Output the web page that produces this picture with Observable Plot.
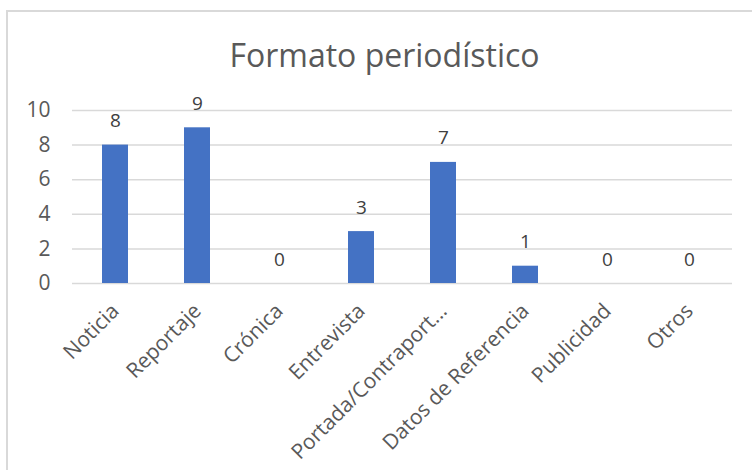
<!DOCTYPE html>
<html>
<head>
<meta charset="utf-8">
<script src="https://cdn.jsdelivr.net/npm/d3@7"></script>
<script src="https://cdn.jsdelivr.net/npm/@observablehq/plot@0.6"></script>
<style>
  html, body { margin: 0; padding: 0; background: #fff; width: 752px; height: 470px; overflow: hidden; }
  #frame { position: absolute; left: 6px; top: 10px; width: 800px; height: 520px; border: 2px solid #d9d9d9; box-sizing: border-box; }
  #title { position: absolute; left: 0; width: 769px; top: 35px; text-align: center; font-family: "Open Sans", sans-serif; font-size: 32px; line-height: 40px; color: #595959; }
  #chart { position: absolute; left: 0; top: 85px; }
  #chart g[aria-label="y-axis tick label"] { font-size: 21px; }
</style>
</head>
<body>
<div id="frame"></div>
<div id="title">Formato periodístico</div>
<div id="chart"></div>
<script>
const categories = ["Noticia", "Reportaje", "Crónica", "Entrevista", "Portada/Contraport...", "Datos de Referencia", "Publicidad", "Otros"];
const values = [8, 9, 0, 3, 7, 1, 0, 0];
const yTicks = [0, 2, 4, 6, 8, 10];

const data = categories.map((c, i) => ({category: c, value: values[i]}));

const chart = Plot.plot({
  width: 752,
  height: 385,
  marginTop: 25,
  marginBottom: 187,
  marginLeft: 72,
  marginRight: 20,
  style: {fontFamily: "Open Sans, sans-serif", color: "#595959", background: "transparent", overflow: "visible"},
  x: {domain: categories, paddingInner: 0.685, paddingOuter: 0.3425, label: null},
  y: {domain: [0, 10], label: null},
  marks: [
    Plot.gridY(yTicks, {stroke: "#d9d9d9", strokeOpacity: 1, strokeWidth: 1.5}),
    Plot.axisY(yTicks, {tickSize: 0, tickPadding: 22, fontSize: 21, label: null}),
    Plot.axisX({tickSize: 0, tickRotate: -45, tickPadding: 24, fontSize: 21, label: null}),
    Plot.barY(data, {x: "category", y: "value", fill: "#4472C4"}),
    Plot.text(data, {x: "category", y: "value", text: d => String(d.value), dy: -24, fontSize: 19, fill: "#404040"})
  ]
});
document.getElementById("chart").appendChild(chart);
</script>
</body>
</html>
